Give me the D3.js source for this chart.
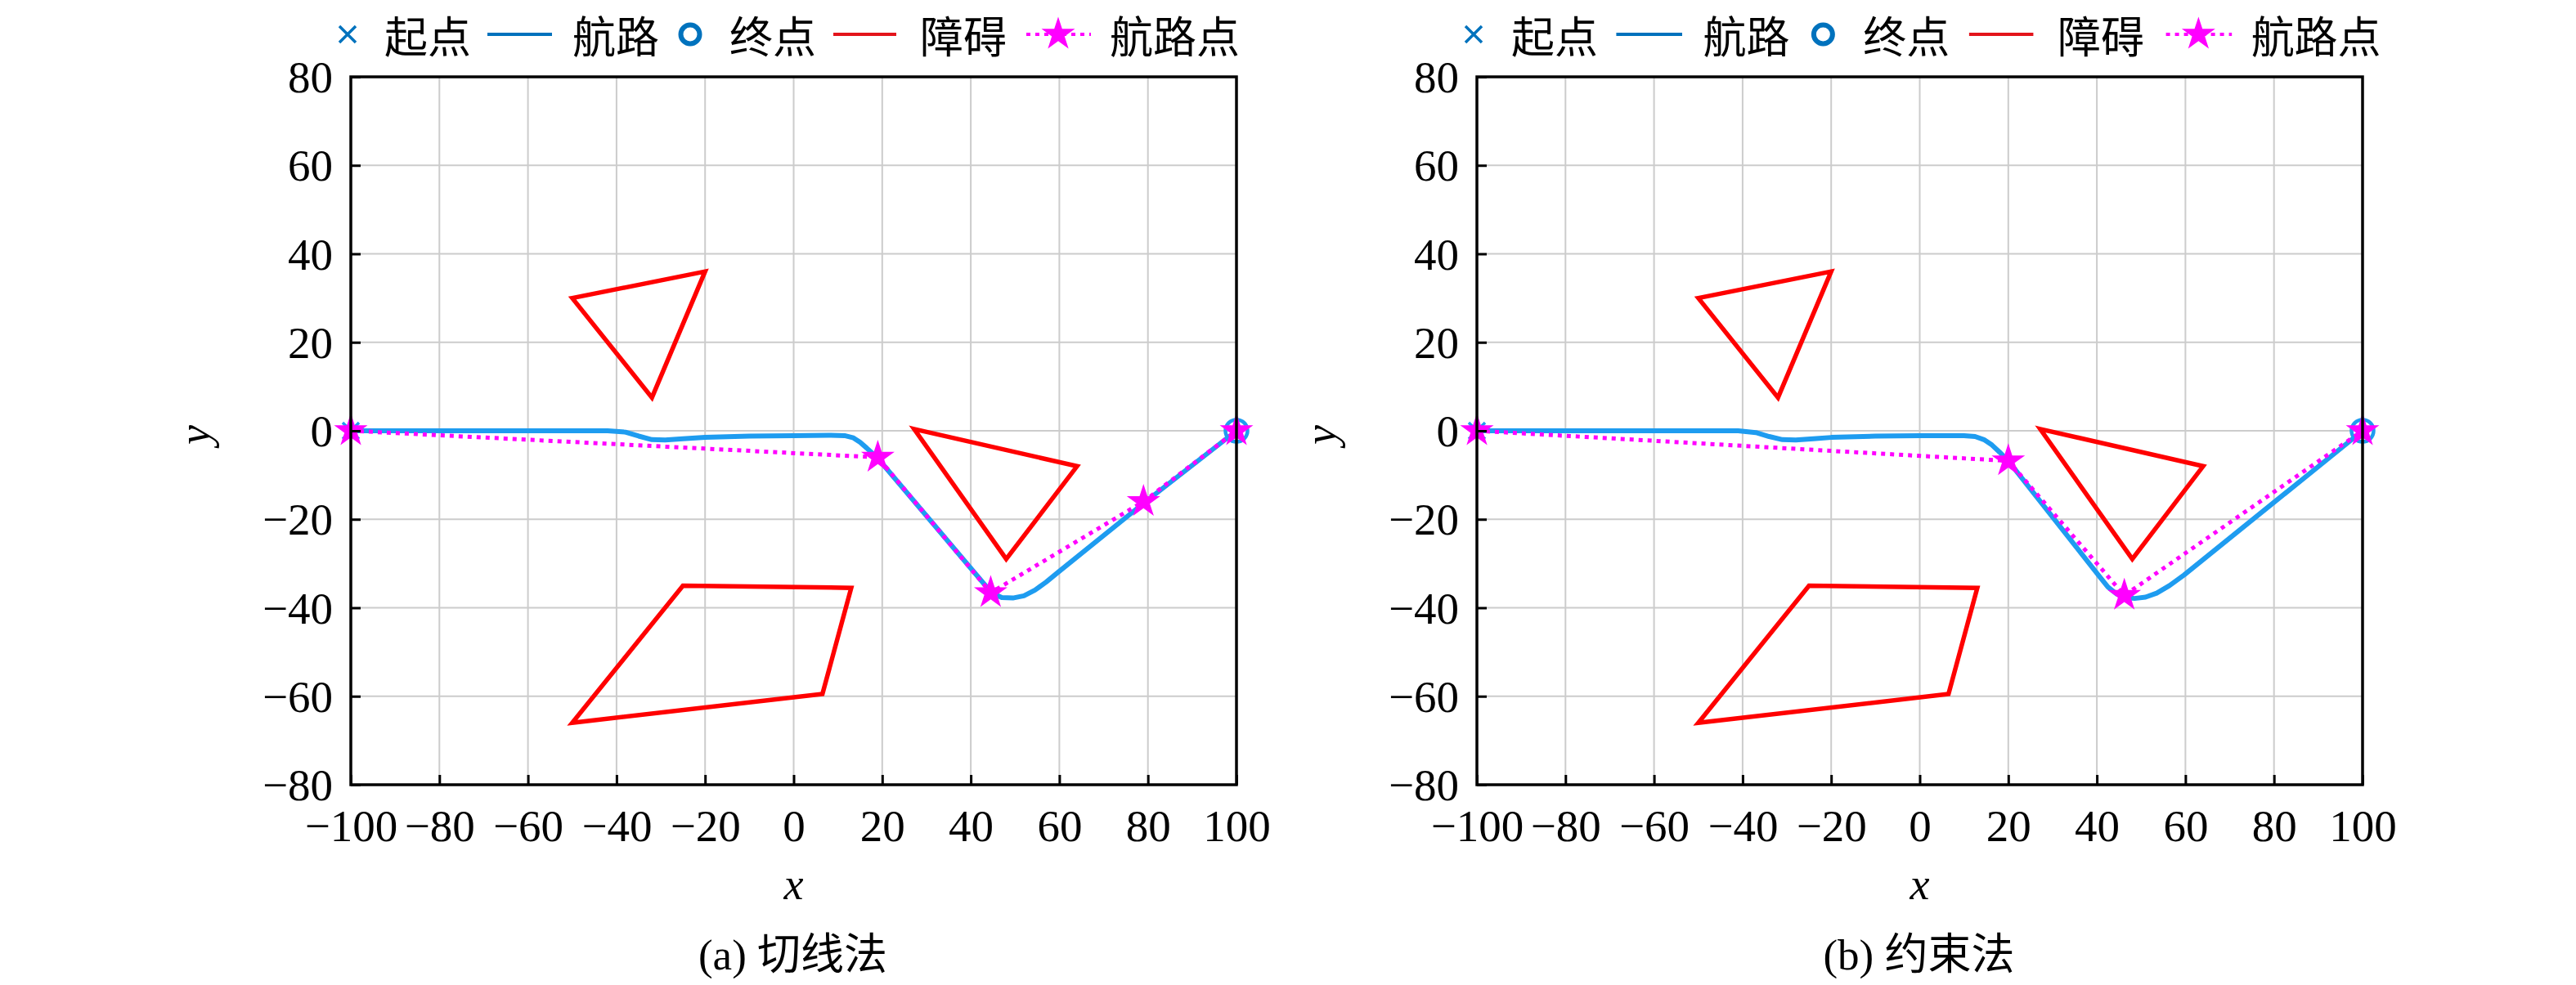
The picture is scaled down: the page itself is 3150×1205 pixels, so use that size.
<!DOCTYPE html>
<html>
<head>
<meta charset="utf-8">
<script src="https://cdn.jsdelivr.net/npm/d3@7"></script>
<style>
  body { margin: 0; background: #fff; }
</style>
</head>
<body>
<div id="chart"></div>
<script>
// ---- data ----
const xTicks = [-100, -80, -60, -40, -20, 0, 20, 40, 60, 80, 100];
const yTicks = [-80, -60, -40, -20, 0, 20, 40, 60, 80];

const obstacles = [
    [[-50, 30], [-20, 36], [-32, 7.5]],
    [[27.2, 0.4], [64, -8], [48, -29]],
    [[-25, -35], [13, -35.5], [6.5, -59.5], [-50, -66]]
];

const startPoint = [-100, 0];
const endPoint = [100, 0];

// (a) tangent method
const routeA = [
    [-100, 0], [-42, 0], [-38, -0.3], [-35, -1.2], [-32, -2], [-29, -2.1], [-25, -1.8],
    [-20, -1.5], [-10, -1.2], [0, -1.1], [8, -1], [11.5, -1.1], [13.5, -1.6], [15, -2.6],
    [16.5, -3.9], [18.9, -6.1], [44, -35.8], [45.5, -37], [47, -37.7], [49.5, -37.8],
    [52, -37.3], [54.5, -36], [57, -34.2], [59.7, -32], [79, -16.4], [100, 0]
];
const waypointsA = [[-100, 0], [19, -6], [44.5, -36.6], [79, -16], [100, 0]];

// (b) constraint method
const routeB = [
    [-100, 0], [-41, 0], [-37, -0.4], [-34, -1.3], [-31, -2], [-28, -2.1], [-24, -1.8],
    [-20, -1.5], [-10, -1.2], [0, -1.1], [10, -1.1], [12.5, -1.3], [14.5, -2], [16.3, -3.2],
    [18, -4.8], [20, -6.8], [40.5, -32.8], [42.5, -35.3], [44.5, -36.9], [46.5, -37.7],
    [48.5, -37.9], [51, -37.6], [53.5, -36.7], [56.4, -35], [59.7, -32.6], [100, 0]
];
const waypointsB = [[-100, 0], [20, -6.8], [46.2, -37.2], [100, 0]];

const legendLabels = ["起点", "航路", "终点", "障碍", "航路点"];
const captions = ["(a) 切线法", "(b) 约束法"];

// ---- layout ----
const W = 3150, H = 1205;
const plotW = 1083, plotH = 866, plotTop = 94;
const numFont = "'Liberation Serif', 'Times New Roman', 'Noto Sans CJK SC', serif";
const cjkFont = "'Noto Sans CJK SC', 'Liberation Serif', serif";

const routeColor = "#1e9cf0";
const legendBlue = "#0072bd";
const magenta = "#ff00ff";

const panels = [
    { left: 429, route: routeA, waypoints: waypointsA, caption: captions[0], legendY: 42, legendScale: 1 },
    { left: 1806, route: routeB, waypoints: waypointsB, caption: captions[1], legendY: 42, legendScale: 1.02 }
];

const svg = d3.select("#chart")
    .append("svg")
    .attr("width", W)
    .attr("height", H)
    .style("background", "#fff");

const x = d3.scaleLinear().domain([-100, 100]).range([0, plotW]);
const y = d3.scaleLinear().domain([-80, 80]).range([plotH, 0]);
const line = d3.line().x(d => x(d[0])).y(d => y(d[1]));
const star = d3.symbol(d3.symbolStar, 520);

function drawPanel(p) {
    const g = svg.append("g").attr("transform", `translate(${p.left},${plotTop})`);

    // grid
    g.append("g").selectAll("line")
        .data(xTicks.slice(1, -1))
        .join("line")
        .attr("x1", d => x(d)).attr("x2", d => x(d))
        .attr("y1", 0).attr("y2", plotH)
        .attr("stroke", "#cccccc").attr("stroke-width", 2);
    g.append("g").selectAll("line")
        .data(yTicks.slice(1, -1))
        .join("line")
        .attr("x1", 0).attr("x2", plotW)
        .attr("y1", d => y(d)).attr("y2", d => y(d))
        .attr("stroke", "#cccccc").attr("stroke-width", 2);

    // obstacles
    g.append("g").selectAll("path")
        .data(obstacles)
        .join("path")
        .attr("d", d => line(d) + "Z")
        .attr("fill", "none")
        .attr("stroke", "#ff0000")
        .attr("stroke-width", 5.5)
        .attr("stroke-linejoin", "miter");

    // route
    g.append("path")
        .attr("d", line(p.route))
        .attr("fill", "none")
        .attr("stroke", routeColor)
        .attr("stroke-width", 6)
        .attr("stroke-linejoin", "round");

    // start and end markers
    g.append("path")
        .attr("transform", `translate(${x(startPoint[0])},${y(startPoint[1])})`)
        .attr("d", "M-10,-10L10,10M-10,10L10,-10")
        .attr("stroke", routeColor).attr("stroke-width", 3.5);
    g.append("circle")
        .attr("cx", x(endPoint[0])).attr("cy", y(endPoint[1]))
        .attr("r", 13.5)
        .attr("fill", "none")
        .attr("stroke", routeColor).attr("stroke-width", 4.5);

    // waypoints
    g.append("path")
        .attr("d", line(p.waypoints))
        .attr("fill", "none")
        .attr("stroke", magenta)
        .attr("stroke-width", 5)
        .attr("stroke-dasharray", "5 6");
    g.append("g").selectAll("path")
        .data(p.waypoints)
        .join("path")
        .attr("transform", d => `translate(${x(d[0])},${y(d[1])})`)
        .attr("d", star)
        .attr("fill", magenta);

    // axes
    const xAxis = g.append("g")
        .attr("transform", `translate(0,${plotH})`)
        .call(d3.axisBottom(x).tickValues(xTicks).tickSizeInner(-12).tickSizeOuter(0));
    xAxis.select(".domain").remove();
    xAxis.selectAll(".tick line").attr("stroke", "#000").attr("stroke-width", 3);
    xAxis.selectAll(".tick text")
        .attr("y", 69).attr("dy", 0)
        .attr("fill", "#000")
        .style("font-family", numFont).style("font-size", "55px");

    const yAxis = g.append("g")
        .call(d3.axisLeft(y).tickValues(yTicks).tickSizeInner(-12).tickSizeOuter(0));
    yAxis.select(".domain").remove();
    yAxis.selectAll(".tick line").attr("stroke", "#000").attr("stroke-width", 3);
    yAxis.selectAll(".tick text")
        .attr("x", -22).attr("dy", "0.34em")
        .attr("fill", "#000")
        .style("font-family", numFont).style("font-size", "55px");

    // box
    g.append("rect")
        .attr("width", plotW).attr("height", plotH)
        .attr("fill", "none")
        .attr("stroke", "#000").attr("stroke-width", 3.5);

    // axis labels
    g.append("text")
        .attr("transform", `translate(${-173},${y(0) + 5}) rotate(-90)`)
        .attr("text-anchor", "middle")
        .style("font-family", numFont).style("font-style", "italic").style("font-size", "54px")
        .text("y");
    g.append("text")
        .attr("x", plotW / 2).attr("y", plotH + 140)
        .attr("text-anchor", "middle")
        .style("font-family", numFont).style("font-style", "italic").style("font-size", "54px")
        .text("x");

    // caption
    g.append("text")
        .attr("x", plotW / 2 - 1).attr("y", 1186 - plotTop)
        .attr("text-anchor", "middle")
        .style("font-family", numFont).style("font-size", "53px")
        .text(p.caption);

    // legend
    const s = p.legendScale;
    const lg = svg.append("g").attr("transform", `translate(${p.left - 4},${p.legendY})`);
    const label = (i, px) => lg.append("text")
        .attr("x", px * s).attr("y", 0)
        .attr("dominant-baseline", "central")
        .style("font-family", cjkFont).style("font-size", "53px")
        .text(legendLabels[i]);

    lg.append("path")
        .attr("d", "M-10,-10L10,10M-10,10L10,-10")
        .attr("stroke", legendBlue).attr("stroke-width", 3.5);
    label(0, 45);

    lg.append("line")
        .attr("x1", 171 * s).attr("x2", 250 * s)
        .attr("stroke", legendBlue).attr("stroke-width", 4);
    label(1, 275);

    lg.append("circle")
        .attr("cx", 419 * s).attr("r", 11.5)
        .attr("fill", "none")
        .attr("stroke", legendBlue).attr("stroke-width", 6);
    label(2, 467);

    lg.append("line")
        .attr("x1", 594 * s).attr("x2", 671 * s)
        .attr("stroke", "#e3141b").attr("stroke-width", 4);
    label(3, 700);

    lg.append("line")
        .attr("x1", 830 * s).attr("x2", 909 * s)
        .attr("stroke", magenta).attr("stroke-width", 4)
        .attr("stroke-dasharray", "5 6");
    lg.append("path")
        .attr("transform", `translate(${869 * s},0)`)
        .attr("d", star)
        .attr("fill", magenta);
    label(4, 932);
}

panels.forEach(drawPanel);
</script>
</body>
</html>
